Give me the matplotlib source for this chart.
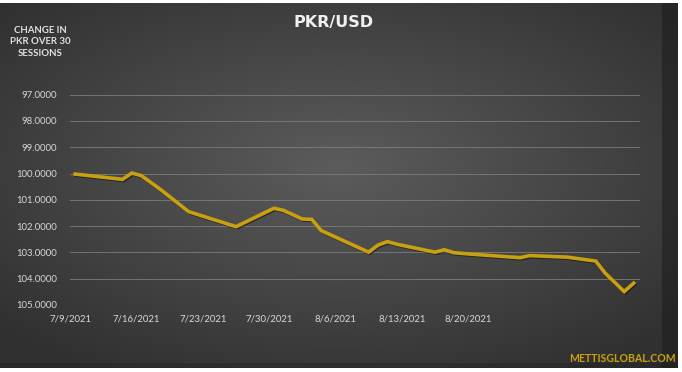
import matplotlib
matplotlib.use("Agg")
import matplotlib.pyplot as plt
import matplotlib.patheffects as pe
import numpy as np
import pandas as pd

# PKR per USD at the visible turning points
dates = ['2021-07-09', '2021-07-14', '2021-07-15', '2021-07-16', '2021-07-18',
         '2021-07-21', '2021-07-26', '2021-07-30', '2021-07-31', '2021-08-02',
         '2021-08-03', '2021-08-04', '2021-08-09', '2021-08-10', '2021-08-11',
         '2021-08-12', '2021-08-16', '2021-08-17', '2021-08-18', '2021-08-20',
         '2021-08-25', '2021-08-26', '2021-08-30', '2021-09-02', '2021-09-03',
         '2021-09-05', '2021-09-06']
rates = [100.02, 100.22, 99.98, 100.08, 100.60,
         101.45, 102.02, 101.32, 101.40, 101.73,
         101.74, 102.17, 102.99, 102.72, 102.59,
         102.69, 102.99, 102.90, 103.01, 103.07,
         103.20, 103.12, 103.18, 103.33, 103.79,
         104.49, 104.17]

tick_dates = ['2021-07-09', '2021-07-16', '2021-07-23', '2021-07-30',
              '2021-08-06', '2021-08-13', '2021-08-20']
tick_labels = ['7/9/2021', '7/16/2021', '7/23/2021', '7/30/2021',
               '8/6/2021', '8/13/2021', '8/20/2021']
y_ticks = [97, 98, 99, 100, 101, 102, 103, 104, 105]

W, H = 682, 372
fig = plt.figure(figsize=(W / 100, H / 100), dpi=100, facecolor='white')

# background panel with a radial grey gradient (excel style)
bg = fig.add_axes([0, 0, 1, 1])
bg.set_xlim(0, W)
bg.set_ylim(H, 0)
bg.axis('off')
gx, gy = np.meshgrid(np.linspace(-1, 1, 400), np.linspace(-1, 1, 220))
r = np.sqrt((gx * 0.95) ** 2 + ((gy + 0.1) * 1.0) ** 2)
shade = 0.36 - 0.17 * np.clip(r, 0, 1.3) / 1.3
img = np.dstack([shade, shade, shade])
bg.imshow(img, extent=[0, 678, 368, 3], aspect='auto', interpolation='bilinear')
# right / bottom shadow strip
bg.fill_between([662, 678], 3, 368, color='#1c1c1c', alpha=0.55, lw=0)
bg.fill_between([0, 678], 363, 368, color='#1c1c1c', alpha=0.3, lw=0)

ax = fig.add_axes([70 / W, 1 - 305 / H, 570 / W, (305 - 94.7) / H])
ax.patch.set_alpha(0)

x = pd.to_datetime(dates)
ax.plot(x, rates, color='#c9a00f', lw=2.6, solid_joinstyle='miter',
        path_effects=[pe.SimpleLineShadow(offset=(0.8, -0.8), shadow_color='black', alpha=0.45),
                      pe.Normal()])

ax.set_ylim(105, 97)
ax.set_yticks(y_ticks)
ax.set_yticklabels(['%.4f' % v for v in y_ticks])
ax.set_xlim(pd.Timestamp('2021-07-08 11:00'), pd.Timestamp('2021-09-06 16:00'))
ax.set_xticks(pd.to_datetime(tick_dates) - pd.Timedelta(hours=12))
ax.set_xticklabels(tick_labels)

ax.grid(axis='y', color='#7c7c7c', lw=0.6)
ax.set_axisbelow(True)
for s in ax.spines.values():
    s.set_visible(False)
ax.tick_params(length=0, colors='#d9d9d9', labelsize=6.9)
ax.tick_params(axis='y', pad=9)
ax.tick_params(axis='x', pad=7)
for lab in ax.get_xticklabels() + ax.get_yticklabels():
    lab.set_fontfamily('Lato')

fig.text(334 / W, 1 - 22 / H, 'PKR/USD', color='#f0f0f0', fontsize=11.5,
         fontweight='bold', ha='center', va='center', family='DejaVu Sans')
fig.text(40 / W, 1 - 42 / H, 'CHANGE IN\nPKR OVER 30\nSESSIONS', color='#e0e0e0',
         fontsize=6.9, fontweight='bold', ha='center', va='center',
         linespacing=1.4, family='Lato')
fig.text(676 / W, 1 - 358 / H, 'METTISGLOBAL.COM', color='#c9a00f', fontsize=7.6,
         fontweight='bold', ha='right', va='center', family='Lato')

fig.savefig('out.png', dpi=100, facecolor='white')
